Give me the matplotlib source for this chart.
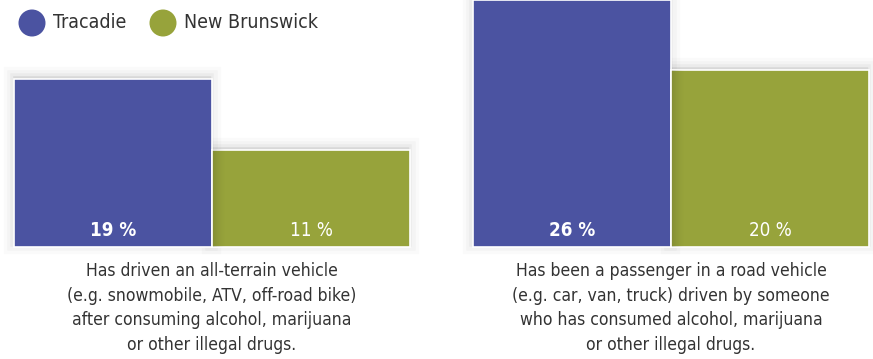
import numpy as np
import matplotlib.pyplot as plt
from matplotlib import transforms
from matplotlib.patches import Circle

# data
groups = ["Tracadie", "New Brunswick"]
colors = ["#4b53a1", "#97a33b"]
left_vals = [19, 11]
right_vals = [26, 20]
left_caption = ("Has driven an all-terrain vehicle\n(e.g. snowmobile, ATV, off-road bike)\n"
                "after consuming alcohol, marijuana\nor other illegal drugs.")
right_caption = ("Has been a passenger in a road vehicle\n(e.g. car, van, truck) driven by someone\n"
                 "who has consumed alcohol, marijuana\nor other illegal drugs.")

plt.rcParams['font.family'] = ['DejaVu Sans']
plt.rcParams['font.stretch'] = 'condensed'

W, H = 873, 359
fig = plt.figure(figsize=(W / 100, H / 100), dpi=100)


def px_axes(x0, x1, ytop, ybot):
    return fig.add_axes([x0 / W, 1 - ybot / H, (x1 - x0) / W, (ybot - ytop) / H])


def draw_panel(ax, vals, ylim):
    ax.set_xlim(0, 2)
    ax.set_ylim(*ylim)
    ax.axis('off')
    x = np.arange(len(vals))
    b0 = max(ylim[0], 0)
    heights = [v - b0 for v in vals]
    # soft shadow, shifted slightly up-left
    sh = transforms.offset_copy(ax.transData, fig=fig, x=-1, y=3, units='dots')
    for lw, a in [(14, 0.018), (9, 0.025), (4, 0.035)]:
        ax.bar(x, heights, width=1, align='edge', bottom=b0, color=(0, 0, 0, a),
               edgecolor=(0, 0, 0, a), linewidth=lw, zorder=1, clip_on=False, transform=sh)
    ax.bar(x, heights, width=1, align='edge', bottom=b0, color=colors, edgecolor='white',
           linewidth=1.2, zorder=2, clip_on=False)
    # darker strip on left side of second bar
    grad = np.zeros((1, 50, 4))
    grad[..., 3] = np.linspace(0.25, 0, 50) ** 1.5
    ax.imshow(grad, extent=(1.005, 1.07, b0, vals[1]), aspect='auto', zorder=3)
    ax.set_xlim(0, 2)
    ax.set_ylim(*ylim)
    tr = transforms.blended_transform_factory(ax.transData, ax.transAxes)
    for i, v in enumerate(vals):
        ax.text(i + 0.5, 16 / 247, f"{v} %", transform=tr, ha='center', va='center',
                color='white', fontsize=13.5, fontweight='bold' if i == 0 else 'normal', zorder=4)


axl = px_axes(14, 410, 0, 247)
draw_panel(axl, left_vals, (0, 247 / 8.84))
axr = px_axes(473, 869, 0, 247)
draw_panel(axr, right_vals, (4.83, 26))

fig.text(212 / W, 1 - 262 / H, left_caption, ha='center', va='top', fontsize=12.6,
         color='#333333', linespacing=1.48)
fig.text(671 / W, 1 - 262 / H, right_caption, ha='center', va='top', fontsize=12.6,
         color='#333333', linespacing=1.48)

# legend
for cx, txt, c in [(32, groups[0], colors[0]), (163, groups[1], colors[1])]:
    fig.patches.append(Circle((cx, H - 23), 13.5, transform=None,
                              facecolor=c, edgecolor='none'))
    fig.text((cx + 21) / W, 1 - 22 / H, txt, ha='left', va='center', fontsize=14, color='#333333')

fig.savefig('out.png', dpi=100)
